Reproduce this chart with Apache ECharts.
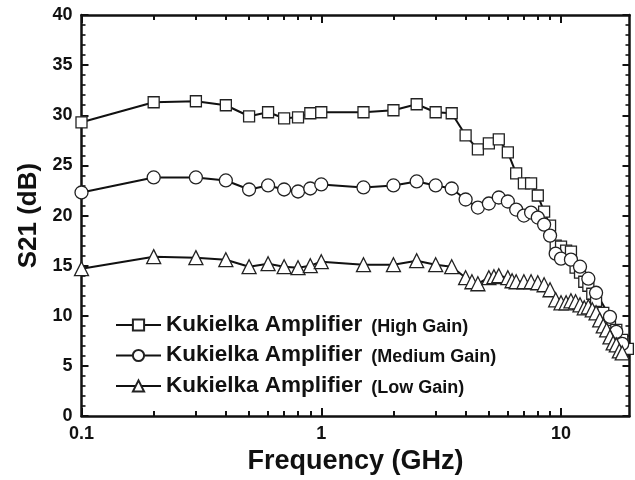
<!DOCTYPE html>
<html>
<head>
<meta charset="utf-8">
<script src="https://cdn.jsdelivr.net/npm/echarts@6/dist/echarts.min.js"></script>
<style>
  html, body { margin: 0; padding: 0; background: #fff; }
  #chart { width: 635px; height: 480px; }
</style>
</head>
<body>
<div id="chart"></div>
<script>
// S21 gain of the Kukielka amplifier in three gain settings, frequency in GHz
const seriesNames = ['High Gain', 'Medium Gain', 'Low Gain'];

const highGainFreq = [0.1, 0.2, 0.3, 0.4, 0.5, 0.6, 0.7, 0.8, 0.9, 1.0, 1.5, 2.0, 2.5, 3.0, 3.5,
  4.0, 4.5, 5.0, 5.5, 6.0, 6.5, 7.0, 7.5, 8.0, 8.5, 9.0, 9.5, 10.0, 10.5, 11.0, 11.5, 12.0,
  12.5, 13.0, 13.5, 14.0, 15.0, 16.0, 17.0, 18.0, 19.0];
const highGainS21 = [29.3, 31.3, 31.4, 31.0, 29.9, 30.3, 29.7, 29.8, 30.2, 30.3, 30.3, 30.5, 31.1, 30.3, 30.2,
  28.0, 26.6, 27.2, 27.6, 26.3, 24.2, 23.2, 23.2, 22.0, 20.4, 19.0, 17.0, 16.9, 16.5, 16.4, 14.8, 14.3,
  13.4, 13.0, 12.2, 11.5, 10.3, 9.6, 8.6, 7.6, 6.7];

const mediumGainFreq = [0.1, 0.2, 0.3, 0.4, 0.5, 0.6, 0.7, 0.8, 0.9, 1.0, 1.5, 2.0, 2.5, 3.0, 3.5,
  4.0, 4.5, 5.0, 5.5, 6.0, 6.5, 7.0, 7.5, 8.0, 8.5, 9.0, 9.5, 10.0, 11.0, 12.0, 13.0, 14.0,
  16.0, 17.0, 18.0];
const mediumGainS21 = [22.3, 23.8, 23.8, 23.5, 22.6, 23.0, 22.6, 22.4, 22.7, 23.1, 22.8, 23.0, 23.4, 23.0, 22.7,
  21.6, 20.8, 21.2, 21.8, 21.4, 20.6, 20.0, 20.3, 19.8, 19.1, 18.0, 16.2, 15.7, 15.6, 14.9, 13.7, 12.3,
  9.9, 8.4, 7.2];

const lowGainFreq = [0.1, 0.2, 0.3, 0.4, 0.5, 0.6, 0.7, 0.8, 0.9, 1.0, 1.5, 2.0, 2.5, 3.0, 3.5,
  4.0, 4.25, 4.5, 5.0, 5.25, 5.5, 6.0, 6.25, 6.5, 7.0, 7.5, 8.0, 8.5, 9.0, 9.5, 10.0, 10.5,
  11.0, 11.5, 12.0, 12.5, 13.0, 13.5, 14.0, 14.5, 15.0, 15.5, 16.0, 16.5, 17.0, 17.5, 18.0];
const lowGainS21 = [14.7, 15.9, 15.8, 15.6, 14.9, 15.2, 14.9, 14.8, 15.0, 15.4, 15.1, 15.1, 15.5, 15.1, 14.9,
  13.8, 13.4, 13.2, 13.8, 13.9, 14.0, 13.8, 13.5, 13.4, 13.4, 13.4, 13.3, 13.1, 12.6, 11.6, 11.3, 11.3,
  11.5, 11.4, 11.1, 10.8, 10.9, 10.6, 10.3, 9.6, 9.0, 8.6, 7.9, 7.3, 7.1, 6.5, 6.3];

// Axis ticks
const xMajorTicks = [0.1, 1, 10];
const xMinorTicks = [0.2, 0.3, 0.4, 0.5, 0.6, 0.7, 0.8, 0.9, 2, 3, 4, 5, 6, 7, 8, 9];
const yTickLabels = [0, 5, 10, 15, 20, 25, 30, 35, 40];

const FONT = 'Liberation Sans, Arial, sans-serif';
const INK = '#111';

function pairs(xs, ys) { return xs.map((x, i) => [x, ys[i]]); }

const X_MIN = 0.1, X_MAX = 19.3;

function xAxisDef(position, major, withLabels) {
  return {
    type: 'log', logBase: 10, position: position, min: X_MIN, max: X_MAX,
    axisLine: { show: major, lineStyle: { color: INK, width: 2.5 } },
    axisTick: { show: true, inside: true, length: major ? 8 : 5, customValues: major ? xMajorTicks : xMinorTicks,
      lineStyle: { color: INK, width: 2 } },
    axisLabel: withLabels ? {
      show: true, customValues: xMajorTicks, margin: 9,
      formatter: v => String(+(+v).toPrecision(3)),
      fontFamily: FONT, fontWeight: 'bold', fontSize: 18, color: INK
    } : { show: false },
    splitLine: { show: false },
    minorTick: { show: false },
    name: withLabels ? 'Frequency (GHz)' : '',
    nameLocation: 'middle', nameGap: 24,
    nameTextStyle: { fontFamily: FONT, fontWeight: 'bold', fontSize: 27, color: INK }
  };
}

function yAxisDef(position, withLabels) {
  return {
    type: 'value', position: position, min: 0, max: 40, interval: 5,
    axisLine: { show: true, lineStyle: { color: INK, width: 2.5 } },
    axisTick: { show: true, inside: true, length: 7, lineStyle: { color: INK, width: 2 } },
    minorTick: { show: true, splitNumber: 5, length: 4, lineStyle: { color: INK, width: 1.6 } },
    axisLabel: withLabels ? {
      show: true, margin: 9, fontFamily: FONT, fontWeight: 'bold', fontSize: 18, color: INK,
      formatter: v => (yTickLabels.indexOf(v) >= 0 ? String(v) : '')
    } : { show: false },
    splitLine: { show: false },
    name: withLabels ? 'S21 (dB)' : '',
    nameLocation: 'middle', nameGap: 32, nameRotate: 90,
    nameTextStyle: { fontFamily: FONT, fontWeight: 'bold', fontSize: 26, color: INK }
  };
}

function lineSeries(name, data, symbol, size) {
  return {
    type: 'line', name: name, data: data,
    xAxisIndex: 0, yAxisIndex: 0,
    symbol: symbol, symbolSize: size, showAllSymbol: true,
    lineStyle: { color: INK, width: 2 },
    itemStyle: { color: '#fff', borderColor: '#222', borderWidth: 1.3 },
    emphasis: { disabled: true },
    animation: false
  };
}

const chart = echarts.init(document.getElementById('chart'), null, { renderer: 'canvas' });

chart.setOption({
  backgroundColor: '#fff',
  animation: false,
  grid: { left: 81.5, right: 5.5, top: 15, bottom: 56, containLabel: false },
  xAxis: [
    xAxisDef('bottom', true, true),
    xAxisDef('bottom', false, false),
    xAxisDef('top', true, false),
    xAxisDef('top', false, false)
  ],
  yAxis: [
    yAxisDef('left', true),
    yAxisDef('right', false)
  ],
  legend: {
    orient: 'vertical', left: 115, top: 313, padding: 0,
    itemWidth: 45, itemHeight: 14, itemGap: 7.5,
    selectedMode: false,
    data: seriesNames,
    formatter: name => '{a|Kukielka Amplifier}{b|(' + name + ')}',
    textStyle: {
      color: INK,
      rich: {
        a: { fontFamily: FONT, fontWeight: 'bold', fontSize: 22.5, color: INK, lineHeight: 22, verticalAlign: 'bottom' },
        b: { fontFamily: FONT, fontWeight: 'bold', fontSize: 18, color: INK, lineHeight: 18, verticalAlign: 'bottom',
             padding: [0, 0, 0, 9] }
      }
    }
  },
  series: [
    lineSeries(seriesNames[0], pairs(highGainFreq, highGainS21), 'rect', 11),
    lineSeries(seriesNames[1], pairs(mediumGainFreq, mediumGainS21), 'circle', 13),
    lineSeries(seriesNames[2], pairs(lowGainFreq, lowGainS21), 'triangle', 14)
  ]
});
</script>
</body>
</html>
